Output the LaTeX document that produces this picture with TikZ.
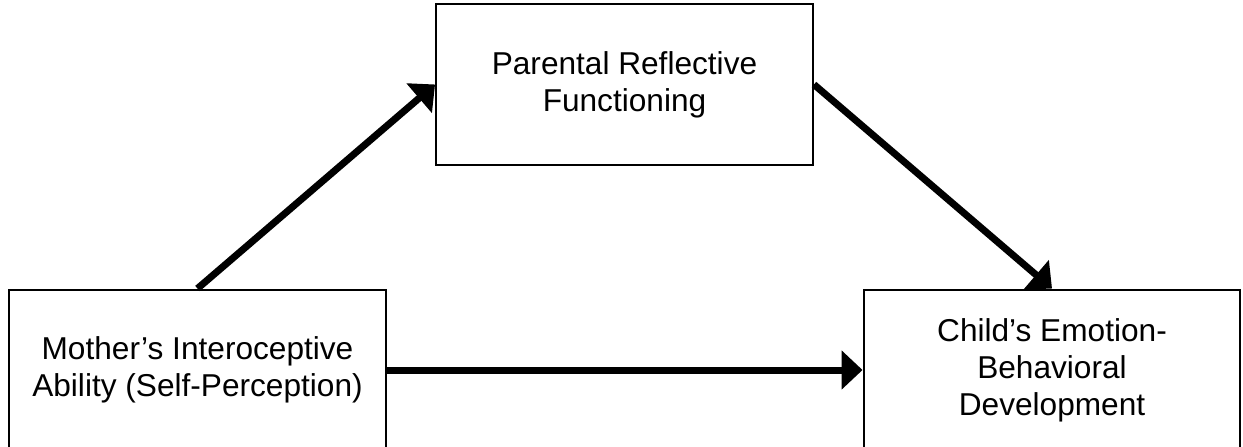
\documentclass[tikz,border=0pt]{standalone}
\usepackage{fontspec}
\setmainfont{Liberation Sans}
\usetikzlibrary{arrows.meta}

\begin{document}
\begin{tikzpicture}[x=0.02cm,y=-0.02cm,
        box/.style={draw,line width=0.04cm,minimum width=7.54cm,minimum height=3.22cm,align=center,inner sep=0pt,font=\fontsize{18}{21}\selectfont},
        link/.style={line width=0.14cm,-{Triangle[length=0.42cm,width=0.76cm]}}]
        \useasboundingbox (0,0) rectangle (1243,446);
        \node[box] (prf) at (624.5,84.5) {Parental Reflective\\Functioning};
        \node[box] (mother) at (197.5,370) {Mother’s Interoceptive\\Ability (Self-Perception)};
        \node[box] (child) at (1052,370) {Child’s Emotion-\\Behavioral\\Development};
        \draw[link] (mother.north) -- (prf.west);
        \draw[link] (prf.east) -- (child.north);
        \draw[link] (mother.east) -- (child.west);
    \end{tikzpicture}
\end{document}
